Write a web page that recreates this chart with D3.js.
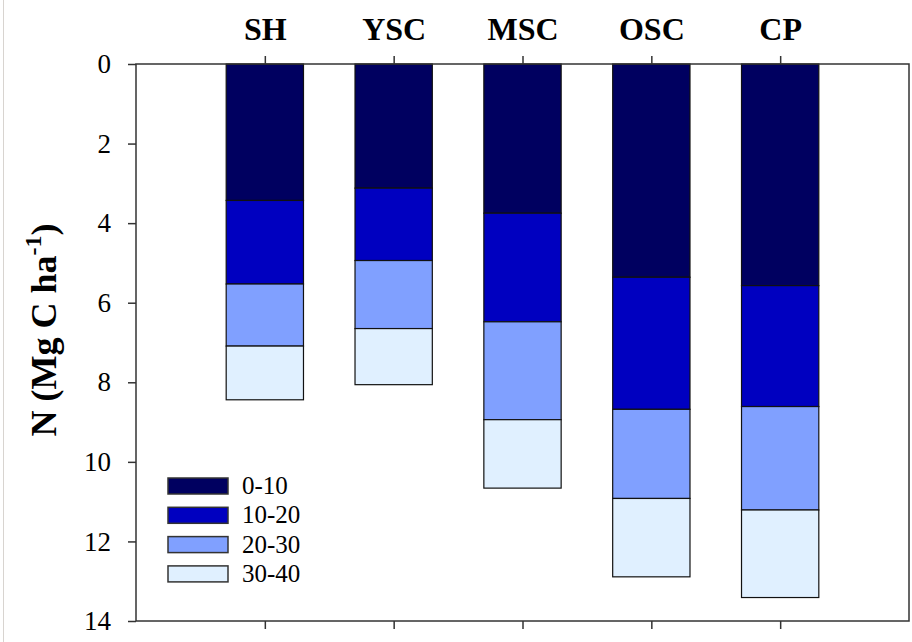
<!DOCTYPE html>
<html>
<head>
<meta charset="utf-8">
<script src="https://cdn.jsdelivr.net/npm/d3@7"></script>
<style>
  body { margin: 0; background: #fff; }
  svg { display: block; }
  svg text { font-family: "Liberation Serif", "Times New Roman", serif; }
</style>
</head>
<body>
<svg id="chart"></svg>
<script>
// stand types (top axis) and soil depth layers (cm)
const stands = ['SH', 'YSC', 'MSC', 'OSC', 'CP'];
const layers = ['0-10', '10-20', '20-30', '30-40'];
const layerColors = ['#000060', '#0000c0', '#80a0ff', '#e0f0ff'];

// N stock per layer (Mg C ha-1)
const layer0_10 = [3.43, 3.12, 3.75, 5.36, 5.57];
const layer10_20 = [2.10, 1.82, 2.73, 3.32, 3.04];
const layer20_30 = [1.56, 1.71, 2.46, 2.24, 2.60];
const layer30_40 = [1.35, 1.41, 1.72, 1.97, 2.20];

const yTicks = [0, 2, 4, 6, 8, 10, 12, 14];

const serif = '"Liberation Serif", "Times New Roman", serif';

class DepthStackChart {
    constructor(_config) {
        this.config = {
            parentElement: _config.parentElement,
            containerWidth: 912,
            containerHeight: 642,
            margin: { top: 64, right: 3, bottom: 21, left: 136 }
        };
        this.initVis();
    }

    initVis() {
        let vis = this;

        vis.width = vis.config.containerWidth - vis.config.margin.left - vis.config.margin.right;
        vis.height = vis.config.containerHeight - vis.config.margin.top - vis.config.margin.bottom;

        vis.svg = d3.select(vis.config.parentElement)
            .attr('width', vis.config.containerWidth)
            .attr('height', vis.config.containerHeight);

        // faint edge line of the original page
        vis.svg.append('line')
            .attr('x1', 3.5).attr('x2', 3.5)
            .attr('y1', 0).attr('y2', vis.config.containerHeight)
            .attr('stroke', '#d8d4d0')
            .attr('stroke-width', 1);

        vis.chart = vis.svg.append('g')
            .attr('transform', `translate(${vis.config.margin.left},${vis.config.margin.top})`);

        // categories sit at 1..5 on a 0..6 axis
        vis.xScale = d3.scaleLinear().domain([0, stands.length + 1]).range([0, vis.width]);
        vis.yScale = d3.scaleLinear().domain([0, 14]).range([0, vis.height]);

        vis.updateVis();
    }

    updateVis() {
        let vis = this;

        vis.rows = stands.map((s, i) => ({
            stand: s,
            idx: i + 1,
            '0-10': layer0_10[i],
            '10-20': layer10_20[i],
            '20-30': layer20_30[i],
            '30-40': layer30_40[i]
        }));

        vis.stacked = d3.stack().keys(layers)(vis.rows);

        vis.renderVis();
    }

    renderVis() {
        let vis = this;
        const step = vis.xScale(1) - vis.xScale(0);
        const barW = step * 0.6;

        vis.chart.selectAll('.layer')
            .data(vis.stacked)
            .join('g')
            .attr('class', 'layer')
            .attr('fill', (d, i) => layerColors[i])
            .selectAll('rect')
            .data(d => d)
            .join('rect')
            .attr('x', d => vis.xScale(d.data.idx) - barW / 2)
            .attr('y', d => vis.yScale(d[0]))
            .attr('width', barW)
            .attr('height', d => vis.yScale(d[1]) - vis.yScale(d[0]))
            .attr('stroke', '#111')
            .attr('stroke-width', 1.2);

        // frame
        vis.chart.append('rect')
            .attr('width', vis.width)
            .attr('height', vis.height)
            .attr('fill', 'none')
            .attr('stroke', '#333')
            .attr('stroke-width', 1.5);

        // left axis
        const yAxis = d3.axisLeft(vis.yScale)
            .tickValues(yTicks)
            .tickSize(8)
            .tickPadding(17);
        const yAxisG = vis.chart.append('g').attr('class', 'axis y-axis').call(yAxis);
        yAxisG.select('.domain').remove();
        yAxisG.selectAll('line').attr('stroke', '#333').attr('stroke-width', 1.5);
        yAxisG.selectAll('text')
            .attr('fill', '#000')
            .style('font-family', serif)
            .style('font-size', '27px');

        // top axis with stand names
        const xTop = d3.axisTop(vis.xScale)
            .tickValues(d3.range(1, stands.length + 1))
            .tickFormat(d => stands[d - 1])
            .tickSize(8)
            .tickPadding(16);
        const xTopG = vis.chart.append('g').attr('class', 'axis x-top').call(xTop);
        xTopG.select('.domain').remove();
        xTopG.selectAll('line').attr('stroke', '#333').attr('stroke-width', 1.5);
        xTopG.selectAll('text')
            .attr('fill', '#000')
            .style('font-family', serif)
            .style('font-weight', 'bold')
            .style('font-size', '32px');

        // bottom axis, ticks only
        const xBottom = d3.axisBottom(vis.xScale)
            .tickValues(d3.range(1, stands.length + 1))
            .tickFormat('')
            .tickSize(8);
        const xBottomG = vis.chart.append('g')
            .attr('class', 'axis x-bottom')
            .attr('transform', `translate(0,${vis.height})`)
            .call(xBottom);
        xBottomG.select('.domain').remove();
        xBottomG.selectAll('line').attr('stroke', '#333').attr('stroke-width', 1.5);

        // y title
        const title = vis.svg.append('text')
            .attr('transform', 'translate(56,330) rotate(-90)')
            .attr('text-anchor', 'middle')
            .style('font-family', serif)
            .style('font-weight', 'bold')
            .style('font-size', '36px');
        title.append('tspan').text('N (Mg C ha');
        title.append('tspan').attr('dy', -15).style('font-size', '24px').text('-1');
        title.append('tspan').attr('dy', 15).text(')');

        // legend
        const legend = vis.chart.append('g')
            .attr('transform', 'translate(32,414)');
        const item = legend.selectAll('g')
            .data(layers)
            .join('g')
            .attr('transform', (d, i) => `translate(0,${i * 29.3})`);
        item.append('rect')
            .attr('width', 60)
            .attr('height', 16)
            .attr('fill', (d, i) => layerColors[i])
            .attr('stroke', '#333')
            .attr('stroke-width', 1.5);
        item.append('text')
            .attr('x', 74)
            .attr('y', 16)
            .style('font-family', serif)
            .style('font-size', '25px')
            .text(d => d);
    }
}

new DepthStackChart({ parentElement: '#chart' });
</script>
</body>
</html>
